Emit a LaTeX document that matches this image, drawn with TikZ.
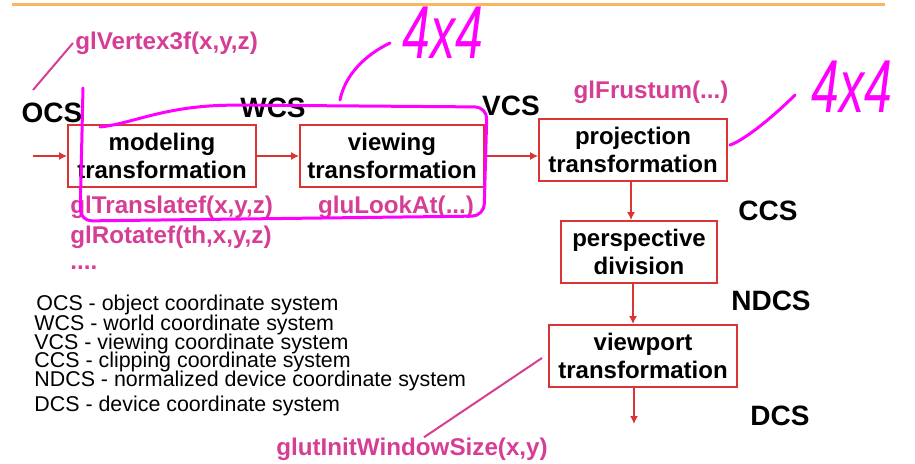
\documentclass[tikz,border=0pt]{standalone}
\usepackage{fontspec}
\setmainfont{Liberation Sans}
\usetikzlibrary{arrows.meta, positioning}
\definecolor{boxred}{RGB}{218,52,52}
\definecolor{glpink}{RGB}{214,62,150}
\definecolor{pen}{RGB}{255,0,255}
\definecolor{rulecol}{RGB}{250,182,92}
\tikzstyle{stage}=[draw=boxred, line width=0.9pt, align=center, font=\fontsize{12}{14}\selectfont\bfseries, minimum height=31pt, inner sep=0pt]
\tikzstyle{flow}=[draw=boxred, line width=0.7pt, -{Latex[length=4pt,width=4pt]}]
\tikzstyle{cs}=[font=\fontsize{14}{14}\selectfont\bfseries, inner sep=0pt]
\tikzstyle{gl}=[text=glpink, font=\fontsize{12.1}{12.1}\selectfont\bfseries, inner sep=0pt]
\tikzstyle{pointer}=[draw=glpink, line width=1pt]
\tikzstyle{legend}=[anchor=west, font=\fontsize{10.7}{10.7}\selectfont, inner sep=0pt]
\tikzstyle{ink}=[draw=pen, line width=1.5pt, line cap=round, line join=round]
\tikzstyle{handwriting}=[text=pen, font=\fontsize{25}{25}\selectfont\itshape, inner sep=0pt]

\begin{document}
\begin{tikzpicture}[x=0.5pt, y=-0.5pt]
  \useasboundingbox (0,0) rectangle (915,464);
  \draw[rulecol, line width=1.5pt] (12,5) -- (885,5);
  % pipeline
  \node[stage, minimum width=94pt] (modeling) at (162,156) {modeling\\transformation};
  \node[stage, minimum width=92pt] (viewing) at (392,156) {viewing\\transformation};
  \node[stage, minimum width=94pt] (projection) at (633,150) {projection\\transformation};
  \node[stage, minimum width=78pt] (perspective) at (639,252) {perspective\\division};
  \node[stage, minimum width=94pt] (viewport) at (643,356) {viewport\\transformation};
  \coordinate (in) at (33,156);
  \coordinate (out) at (634,424);
  \draw[flow] (in) -- (modeling);
  \draw[flow] (modeling) -- (viewing);
  \draw[flow] (viewing) -- (viewing -| projection.west);
  \draw[flow] ([xshift=-1pt]projection.south) -- ([xshift=-1pt]projection.south |- perspective.north);
  \draw[flow] ([xshift=-3pt]perspective.south) -- ([xshift=-3pt]perspective.south |- viewport.north);
  \draw[flow] (viewport.south -| out) -- (out);
  % coordinate systems
  \node[cs] (ocs) at (52,113) {OCS};
  \node[cs] (wcs) at (273,108) {WCS};
  \node[cs] (vcs) at (511,106) {VCS};
  \node[cs] (ccs) at (768,211) {CCS};
  \node[cs] (ndcs) at (771,301) {NDCS};
  \node[cs] (dcs) at (780,416) {DCS};
  % OpenGL calls
  \node[gl, anchor=west] (vertex) at (75,43) {glVertex3f(x,y,z)};
  \node[gl, anchor=west] (translate) at (70,207) {glTranslatef(x,y,z)};
  \node[gl, anchor=west] (rotate) at (70,237) {glRotatef(th,x,y,z)};
  \node[gl, anchor=west] (dots) at (70,268) {....};
  \node[gl] (lookat) at (396,207) {gluLookAt(...)};
  \node[gl] (frustum) at (651,92) {glFrustum(...)};
  \node[gl] (window) at (412,449) {glutInitWindowSize(x,y)};
  \coordinate (vertexfoot) at (33,90);
  \coordinate (windowtip) at (542,358);
  \draw[pointer] (vertexfoot) -- ([xshift=-1pt]vertex.west);
  \draw[pointer] ([xshift=6pt]window.north) -- (windowtip);
  % legend
  \node[legend] (legocs) at (36,305) {OCS - object coordinate system};
  \node[legend] (legwcs) at (34,325) {WCS - world coordinate system};
  \node[legend] (legvcs) at (34,344) {VCS - viewing coordinate system};
  \node[legend] (legccs) at (34,362) {CCS - clipping coordinate system};
  \node[legend] (legndcs) at (34,381) {NDCS - normalized device coordinate system};
  \node[legend] (legdcs) at (34,406) {DCS - device coordinate system};
  % pen annotations
  \node[handwriting, yscale=1.5] (foura) at (443,33) {4x4};
  \node[handwriting, yscale=1.5] (fourb) at (852,87) {4x4};
  \draw[ink, rounded corners=6pt] (83,88) -- (80,221) -- (484,216) -- (487,107) -- (230,105)
    .. controls (160,108) and (130,124) .. (100,127);
  \coordinate (loopa) at (340,100);
  \coordinate (penA) at (390,43);
  \coordinate (loopb) at (730,145);
  \coordinate (penB) at (795,95);
  \draw[ink] (loopa) .. controls (345,75) and (365,55) .. (penA);
  \draw[ink] (loopb) .. controls (745,140) and (775,115) .. (penB);
\end{tikzpicture}
\end{document}
